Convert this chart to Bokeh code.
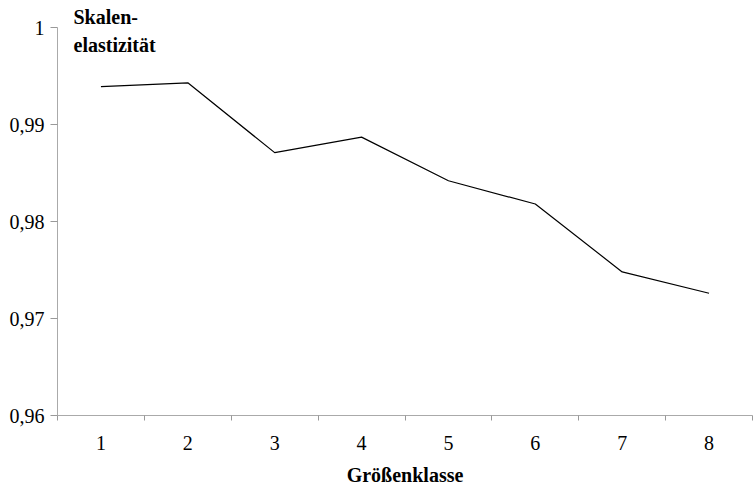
from bokeh.plotting import figure
from bokeh.models import Range1d, FixedTicker, CustomJSTickFormatter, Label
from bokeh.embed import file_html
from bokeh.resources import INLINE

# Data
groessenklasse = [1, 2, 3, 4, 5, 6, 7, 8]
skalenelastizitaet = [0.9939, 0.9943, 0.9871, 0.9887, 0.9842, 0.9818, 0.9748, 0.9726]
y_ticks = [0.96, 0.97, 0.98, 0.99, 1.0]
x_labels = ["1", "2", "3", "4", "5", "6", "7", "8"]

FONT = "Liberation Serif"

p = figure(width=753, height=488, output_backend="svg", toolbar_location=None,
           x_range=Range1d(0.5, 8.5), y_range=Range1d(0.96, 1.0),
           min_border_left=57, min_border_right=1, min_border_top=27, min_border_bottom=72)
p.outline_line_color = None
p.xgrid.grid_line_color = None
p.ygrid.grid_line_color = None

# First line of the y-axis title as plot title (above the frame)
p.title.text = "Skalen-"
p.title.align = "left"
p.title.offset = 16
p.title.standoff = 0
p.title.vertical_align = "bottom"
p.title.text_font = FONT
p.title.text_font_style = "bold"
p.title.text_font_size = "20px"
p.title.text_color = "black"

p.line(groessenklasse, skalenelastizitaet, line_color="black", line_width=1.2)

# X axis
xa = p.xaxis[0]
xa.ticker = FixedTicker(ticks=groessenklasse,
                        minor_ticks=[i + 0.5 for i in range(0, 9)])
xa.major_label_overrides = {k: s for k, s in zip(groessenklasse, x_labels)}
xa.major_tick_out = 0
xa.major_tick_in = 0
xa.minor_tick_out = 5
xa.minor_tick_in = 0
xa.minor_tick_line_color = "#999999"
xa.axis_line_color = "#aaaaaa"
xa.major_label_text_font = FONT
xa.major_label_text_font_size = "20px"
xa.major_label_text_color = "black"
xa.major_label_standoff = 15
xa.axis_label = "Größenklasse"
xa.axis_label_text_font = FONT
xa.axis_label_text_font_style = "bold"
xa.axis_label_text_font_size = "20px"
xa.axis_label_text_color = "black"
xa.axis_label_standoff = 11

# Y axis
ya = p.yaxis[0]
ya.ticker = FixedTicker(ticks=y_ticks)
ya.formatter = CustomJSTickFormatter(code="""
    if (tick > 0.9999) { return '1'; }
    return tick.toFixed(2).replace('.', ',');
""")
ya.major_tick_out = 7
ya.major_tick_in = 0
ya.minor_tick_out = 0
ya.minor_tick_in = 0
ya.major_tick_line_color = "#999999"
ya.axis_line_color = "#aaaaaa"
ya.major_label_text_font = FONT
ya.major_label_text_font_size = "20px"
ya.major_label_text_color = "black"
ya.major_label_standoff = 6

# Second line of the y-axis title, inside the frame
p.add_layout(Label(x=16, y=371, x_units="screen", y_units="screen", text="elastizität",
                   text_font=FONT, text_font_style="bold", text_font_size="20px",
                   text_color="black", text_baseline="alphabetic"))

open("out.html", "w").write(file_html(p, INLINE))
